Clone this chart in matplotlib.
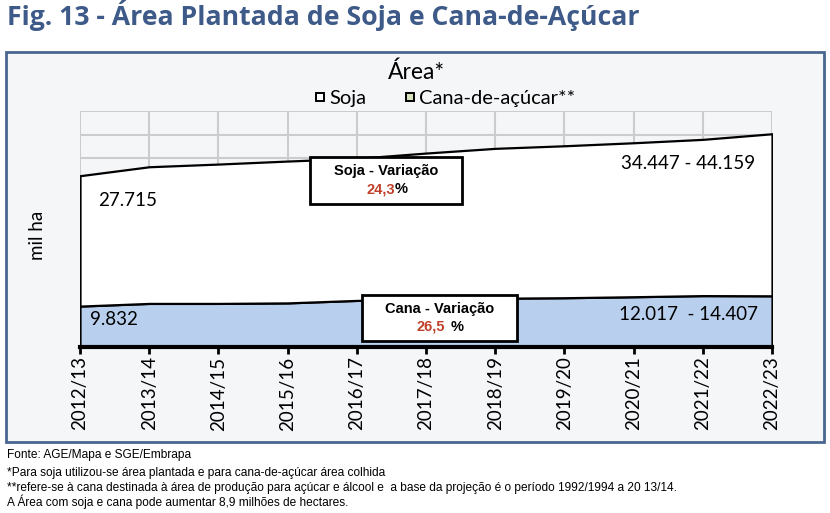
import numpy as np
import matplotlib
matplotlib.use("Agg")
import matplotlib.pyplot as plt
from matplotlib.patches import Rectangle
from matplotlib.lines import Line2D

# safras (eixo x)
safras = ['2012/13', '2013/14', '2014/15', '2015/16', '2016/17', '2017/18',
          '2018/19', '2019/20', '2020/21', '2021/22', '2022/23']

# area em mil ha
cana = [9832, 10400, 10400, 10510, 11040, 11250, 11500, 11610, 11820, 12060, 12017]
soja = [27715, 29050, 29620, 30150, 30200, 31110, 31860, 32300, 32730, 33210, 34447]

soja_faixa = (34447, 44159)
cana_faixa = (12017, 14407)
soja_var = '24,3'
cana_var = '26,5'

notas = [
    'Fonte: AGE/Mapa e SGE/Embrapa',
    '*Para soja utilizou-se área plantada e para cana-de-açúcar área colhida',
    '**refere-se à cana destinada à área de produção para açúcar e álcool e  a base da projeção é o período 1992/1994 a 20 13/14.',
    'A Área com soja e cana pode aumentar 8,9 milhões de hectares.',
]

def fmt(v):
    return f'{v:,}'.replace(',', '.')

W, H = 830, 513
fundo = '#f5f6f8'
azul_tit = '#3d5a88'
vermelho = '#c0402a'
chart_font = ['Lato', 'DejaVu Sans']
box_font = ['Liberation Sans', 'DejaVu Sans']
note_font = ['Liberation Sans Narrow', 'Liberation Sans', 'DejaVu Sans']

fig = plt.figure(figsize=(W / 100, H / 100), dpi=100)
fig.patch.set_facecolor('white')

# painel do grafico
painel = Rectangle((6 / W, 1 - 442 / H), 818 / W, 390 / H, transform=fig.transFigure,
                   facecolor=fundo, edgecolor='#4a6690', linewidth=2, zorder=-5)
fig.patches.append(painel)

fig.text(7 / W, 1 - 25 / H, 'Fig. 13 - Área Plantada de Soja e Cana-de-Açúcar',
         fontsize=19.2, fontweight='bold', color=azul_tit, family=['Open Sans', 'DejaVu Sans'],
         ha='left', va='baseline')

ax = fig.add_axes([80 / W, 1 - 346.7 / H, 692 / W, 235.7 / H])
ax.set_zorder(2)
ax.set_facecolor(fundo)
x = np.arange(len(safras))
ax.stackplot(x, cana, soja, colors=['#b9cfee', 'white'], edgecolor='black',
             linewidth=1.6, zorder=2)

ymin, ymax = 1200, 51300
ax.set_xlim(0, len(safras) - 1)
ax.set_ylim(ymin, ymax)
ax.set_yticks(np.arange(ymax, ymin, -5000))
ax.set_xticks(x)
ax.set_xticklabels(safras, rotation=90, fontsize=13.5, family=chart_font)
ax.tick_params(axis='y', left=False, labelleft=False)
ax.tick_params(axis='x', direction='out', length=5, width=2, pad=2)
ax.grid(True, color='#cccccc', linewidth=1.5, zorder=0)
ax.set_axisbelow(True)
for s in ['left', 'right', 'top']:
    ax.spines[s].set_visible(False)
ax.spines['bottom'].set_linewidth(3)
ax.spines['bottom'].set_zorder(6)

# rotulos de valores
ax.text(0.026, 0.622, fmt(soja[0]), transform=ax.transAxes, fontsize=13.5,
        family=chart_font, ha='left', va='center', zorder=4)
ax.text(0.9754, 0.778, f'{fmt(soja_faixa[0])} - {fmt(soja_faixa[1])}', transform=ax.transAxes,
        fontsize=13.5, family=chart_font, ha='right', va='center', zorder=4)
ax.text(0.0145, 0.1133, fmt(cana[0]), transform=ax.transAxes, fontsize=13.5,
        family=chart_font, ha='left', va='center', zorder=4)
ax.text(0.9798, 0.1345, f'{fmt(cana_faixa[0])}  - {fmt(cana_faixa[1])}', transform=ax.transAxes,
        fontsize=13.5, family=chart_font, ha='right', va='center', zorder=4)

# caixas de variacao
def caixa(x0, x1, y0, y1, titulo, var, xsplit, ty, vy, gap):
    r = Rectangle((x0, y0), x1 - x0, y1 - y0, transform=ax.transAxes, facecolor='white',
                  edgecolor='black', linewidth=2, zorder=7, clip_on=False)
    ax.add_patch(r)
    ax.text((x0 + x1) / 2, ty, titulo, transform=ax.transAxes, fontsize=10.5,
            fontweight='bold', family=box_font, ha='center', va='center', zorder=8)
    ax.text(xsplit, vy, var, transform=ax.transAxes, fontsize=10.5, fontweight='bold',
            color=vermelho, family=box_font, ha='right', va='center', zorder=8)
    ax.text(xsplit + gap, vy, '%', transform=ax.transAxes, fontsize=10.5, fontweight='bold',
            family=box_font, ha='left', va='center', zorder=8)

caixa(0.332, 0.552, 0.605, 0.805, 'Soja - Variação', soja_var, 0.455, 0.7467, 0.668, 0.0)
caixa(0.4075, 0.6315, 0.024, 0.219, 'Cana - Variação', cana_var, 0.5275, 0.1587, 0.0849, 0.008)

fig.text(416 / W, 1 - 72 / H, 'Área*', fontsize=16.5, family=chart_font, ha='center', va='center')
fig.text(37 / W, 1 - 235 / H, 'mil ha', fontsize=13.5, family=chart_font, rotation=90,
         ha='center', va='center')

handles = [Line2D([], [], marker='s', linestyle='none', markersize=6, markerfacecolor='white',
                  markeredgecolor='black', markeredgewidth=1.4),
           Line2D([], [], marker='s', linestyle='none', markersize=6, markerfacecolor='#d6e3bc',
                  markeredgecolor='black', markeredgewidth=1.4)]
fig.legend(handles, ['Soja', 'Cana-de-açúcar**'], loc='center', bbox_to_anchor=(444 / W, 1 - 98 / H),
           ncol=2, frameon=False, handletextpad=0.1, columnspacing=1.8, handlelength=0.7,
           prop={'family': chart_font, 'size': 14.5})

ys = [455, 473, 488, 502]
for t, yy in zip(notas, ys):
    fig.text(7 / W, 1 - yy / H, t, fontsize=8.6, family=note_font, ha='left', va='center')

fig.savefig('out.png', dpi=100)
